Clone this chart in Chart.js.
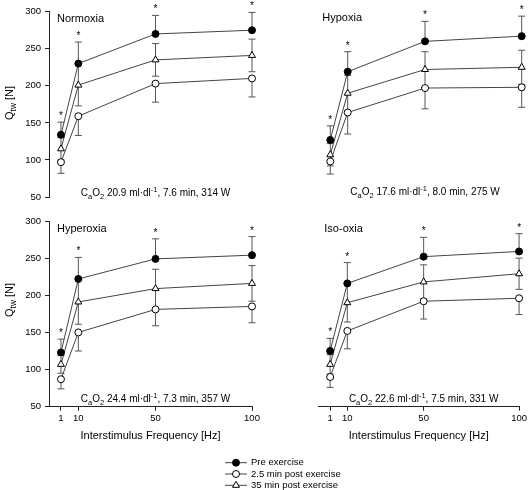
<!DOCTYPE html>
<html>
<head>
<meta charset="utf-8">
<script src="https://cdn.jsdelivr.net/npm/chart.js@4.4.1/dist/chart.umd.min.js"></script>
<style>
    body { margin: 0; background: #fff; }
    #wrap { position: relative; width: 529px; height: 490px; }
    #wrap canvas { position: absolute; left: 0; top: 0; }
</style>
</head>
<body>
<div id="wrap">
    <canvas id="normoxia" width="529" height="490"></canvas>
    <canvas id="hypoxia" width="529" height="490"></canvas>
    <canvas id="hyperoxia" width="529" height="490"></canvas>
    <canvas id="isooxia" width="529" height="490"></canvas>
</div>
<script>
// stimulation frequencies (Hz) and axis ticks
const freqs = [1, 10, 50, 100];
const xTicks = [1, 10, 50, 100];
const yTicks = [50, 100, 150, 200, 250, 300];
const seriesLabels = ["Pre exercise", "2.5 min post exercise", "35 min post exercise"];

// Qtw means and SD per condition
const normoxiaPre = [134, 230, 270, 275];
const normoxiaPreSd = [17, 29, 25, 24];
const normoxiaPost25 = [97, 159, 203, 210];
const normoxiaPost25Sd = [15, 26, 25, 25];
const normoxiaPost35 = [115, 201, 235, 241];
const normoxiaPost35Sd = [15, 28, 22, 22];

const hypoxiaPre = [127, 219, 260, 267];
const hypoxiaPreSd = [19, 27, 27, 27];
const hypoxiaPost25 = [98, 164, 197, 198];
const hypoxiaPost25Sd = [17, 29, 28, 27];
const hypoxiaPost35 = [107, 190, 222, 225];
const hypoxiaPost35Sd = [15, 24, 24, 23];

const hyperoxiaPre = [123, 222, 249, 254];
const hyperoxiaPreSd = [18, 29, 27, 25];
const hyperoxiaPost25 = [87, 150, 181, 185];
const hyperoxiaPost25Sd = [13, 25, 22, 22];
const hyperoxiaPost35 = [107, 191, 209, 216];
const hyperoxiaPost35Sd = [12, 30, 26, 24];

const isoPre = [125, 216, 252, 259];
const isoPreSd = [17, 28, 26, 24];
const isoPost25 = [90, 152, 192, 196];
const isoPost25Sd = [14, 24, 24, 22];
const isoPost35 = [107, 190, 218, 229];
const isoPost35Sd = [13, 26, 23, 21];

// panel notes: arterial O2 content, time, power
const caO2 = ["20.9", "17.6", "24.4", "22.6"];
const noteRest = ["7.6 min, 314 W", "8.0 min, 275 W", "7.3 min, 357 W", "7.5 min, 331 W"];

const FONT = "'Liberation Sans', Arial, Helvetica, sans-serif";
const Y_AXIS_W = 40;
const X_AXIS_H = 36;
const INK = "#222";

function drawRich(ctx, parts, x, y, size, align) {
    const fontFor = (k) => (k ? size * 0.75 : size) + "px " + FONT;
    let width = 0;
    parts.forEach(([t, k]) => {
        ctx.font = fontFor(k);
        width += ctx.measureText(t).width;
    });
    let cx = align === "center" ? x - width / 2 : x;
    parts.forEach(([t, k]) => {
        ctx.font = fontFor(k);
        const dy = k === "sub" ? size * 0.3 : k === "sup" ? -size * 0.4 : 0;
        ctx.fillText(t, cx, y + dy);
        cx += ctx.measureText(t).width;
    });
}

function drawMarker(ctx, style, fill, x, y, r) {
    ctx.beginPath();
    if (style === "triangle") {
        ctx.moveTo(x, y - r);
        ctx.lineTo(x + r * 0.866, y + r * 0.5);
        ctx.lineTo(x - r * 0.866, y + r * 0.5);
        ctx.closePath();
    } else {
        ctx.arc(x, y, r, 0, Math.PI * 2);
    }
    ctx.fillStyle = fill;
    ctx.fill();
    ctx.stroke();
}

const decor = {
    id: "decor",
    beforeDatasetsDraw(chart) {
        const ctx = chart.ctx;
        const xs = chart.scales.x;
        const ys = chart.scales.y;
        ctx.save();
        ctx.strokeStyle = "#555";
        ctx.lineWidth = 1;
        chart.data.datasets.forEach((ds) => {
            ds.data.forEach((pt, i) => {
                const px = xs.getPixelForValue(pt.x);
                const py = ys.getPixelForValue(pt.y);
                const ends = [];
                if (ds.sdUp) ends.push(ys.getPixelForValue(pt.y + ds.sd[i]));
                if (ds.sdDown) ends.push(ys.getPixelForValue(pt.y - ds.sd[i]));
                ends.forEach((e) => {
                    ctx.beginPath();
                    ctx.moveTo(px, py);
                    ctx.lineTo(px, e);
                    ctx.moveTo(px - 3.5, e);
                    ctx.lineTo(px + 3.5, e);
                    ctx.stroke();
                });
            });
        });
        ctx.restore();
    },
    afterDraw(chart, args, opts) {
        const ctx = chart.ctx;
        const area = chart.chartArea;
        const xs = chart.scales.x;
        const ys = chart.scales.y;
        ctx.save();
        ctx.fillStyle = "#000";
        ctx.textBaseline = "alphabetic";

        // panel title
        ctx.font = "11px " + FONT;
        ctx.textAlign = "left";
        ctx.fillText(opts.title, area.left + opts.titleDx, opts.titleY);

        // significance stars over pre exercise
        const pre = chart.data.datasets[0];
        ctx.font = "10px " + FONT;
        ctx.textAlign = "center";
        pre.data.forEach((pt, i) => {
            const cap = ys.getPixelForValue(pt.y + pre.sd[i]);
            ctx.fillText("*", xs.getPixelForValue(pt.x), cap - 3);
        });

        // condition note
        ctx.textAlign = "left";
        drawRich(ctx, [
            ["C", ""], ["a", "sub"], ["O", ""], ["2", "sub"],
            [" " + opts.cao2 + " ml\u00b7dl", ""], ["-1", "sup"],
            [", " + opts.rest, ""]
        ], xs.getPixelForValue(50), ys.getPixelForValue(opts.noteY), 10, "center");

        // y axis title
        if (opts.yTitle) {
            ctx.save();
            ctx.translate(10, opts.yTitleY);
            ctx.rotate(-Math.PI / 2);
            ctx.textBaseline = "middle";
            drawRich(ctx, [["Q", ""], ["tw", "sub"], [" [N]", ""]], 0, 0, 11, "center");
            ctx.restore();
        }

        // legend
        if (opts.legend) {
            const rows = [462.7, 474, 485.3];
            chart.data.datasets.forEach((ds, i) => {
                const y = rows[i];
                ctx.strokeStyle = ds.borderColor;
                ctx.lineWidth = 1;
                ctx.beginPath();
                ctx.moveTo(225, y);
                ctx.lineTo(247, y);
                ctx.stroke();
                ctx.strokeStyle = "#000";
                drawMarker(ctx, ds.pointStyle, ds.pointBackgroundColor, 236, y, ds.pointStyle === "triangle" ? 4 : 3.5);
                ctx.fillStyle = "#000";
                ctx.font = "9.5px " + FONT;
                ctx.textAlign = "left";
                ctx.textBaseline = "middle";
                ctx.fillText(ds.label, 251, y);
            });
        }
        ctx.restore();
    }
};

function series(label, values, sd, style, fill, up, down) {
    return {
        label: label,
        data: freqs.map((f, i) => ({ x: f, y: values[i] })),
        sd: sd,
        sdUp: up,
        sdDown: down,
        borderColor: "#444",
        borderWidth: 1,
        pointStyle: style,
        pointRadius: style === "triangle" ? 4 : 3.5,
        pointBackgroundColor: fill,
        pointBorderColor: "#000",
        pointBorderWidth: 1,
        tension: 0,
        clip: false,
    };
}

function makePanel(p) {
    const ctx = document.getElementById(p.id).getContext("2d");
    new Chart(ctx, {
        type: "line",
        data: {
            datasets: [
                series(seriesLabels[0], p.pre, p.preSd, "circle", "#000", true, false),
                series(seriesLabels[1], p.post25, p.post25Sd, "circle", "#fff", false, true),
                series(seriesLabels[2], p.post35, p.post35Sd, "triangle", "#fff", true, true),
            ],
        },
        options: {
            responsive: false,
            animation: false,
            devicePixelRatio: 1,
            layout: {
                padding: {
                    left: p.box.left - (p.showY ? Y_AXIS_W : 0),
                    top: p.box.top,
                    right: 529 - p.box.right,
                    bottom: 490 - p.box.bottom - (p.showX ? X_AXIS_H : 0),
                },
            },
            plugins: {
                legend: { display: false },
                tooltip: { enabled: false },
                decor: {
                    title: p.title,
                    titleDx: p.titleDx,
                    titleY: p.titleY,
                    cao2: p.cao2,
                    rest: p.rest,
                    noteY: p.noteY,
                    yTitle: p.showY,
                    yTitleY: p.yTitleY,
                    legend: p.legend,
                },
            },
            scales: {
                x: {
                    type: "linear",
                    min: -5.2,
                    max: 100,
                    display: p.showX,
                    afterBuildTicks: (s) => { s.ticks = xTicks.map((v) => ({ value: v })); },
                    afterFit: (s) => { if (p.showX) s.height = X_AXIS_H; },
                    grid: { drawOnChartArea: false, drawTicks: true, tickLength: 4, color: INK },
                    border: { display: true, color: INK },
                    ticks: { color: "#000", padding: 2, font: { size: 9.5, family: FONT } },
                    title: {
                        display: true,
                        text: "Interstimulus Frequency [Hz]",
                        color: "#000",
                        padding: 0,
                        font: { size: 11, family: FONT },
                    },
                },
                y: {
                    type: "linear",
                    min: 50,
                    max: 300,
                    display: p.showY,
                    afterBuildTicks: (s) => { s.ticks = yTicks.map((v) => ({ value: v })); },
                    afterFit: (s) => { if (p.showY) s.width = Y_AXIS_W; },
                    grid: { drawOnChartArea: false, drawTicks: true, tickLength: 4, color: INK },
                    border: { display: true, color: INK },
                    ticks: { color: "#000", padding: 4, font: { size: 9.5, family: FONT } },
                },
            },
        },
        plugins: [decor],
    });
}

makePanel({
    id: "normoxia", title: "Normoxia",
    pre: normoxiaPre, preSd: normoxiaPreSd,
    post25: normoxiaPost25, post25Sd: normoxiaPost25Sd,
    post35: normoxiaPost35, post35Sd: normoxiaPost35Sd,
    cao2: caO2[0], rest: noteRest[0],
    box: { left: 49, right: 252, top: 11.7, bottom: 197 },
    showX: false, showY: true, titleDx: 8, titleY: 21.5, noteY: 51, yTitleY: 103, legend: false,
});
makePanel({
    id: "hypoxia", title: "Hypoxia",
    pre: hypoxiaPre, preSd: hypoxiaPreSd,
    post25: hypoxiaPost25, post25Sd: hypoxiaPost25Sd,
    post35: hypoxiaPost35, post35Sd: hypoxiaPost35Sd,
    cao2: caO2[1], rest: noteRest[1],
    box: { left: 318.3, right: 521.7, top: 11.7, bottom: 197 },
    showX: false, showY: false, titleDx: 4, titleY: 20.5, noteY: 53, yTitleY: 103, legend: false,
});
makePanel({
    id: "hyperoxia", title: "Hyperoxia",
    pre: hyperoxiaPre, preSd: hyperoxiaPreSd,
    post25: hyperoxiaPost25, post25Sd: hyperoxiaPost25Sd,
    post35: hyperoxiaPost35, post35Sd: hyperoxiaPost35Sd,
    cao2: caO2[2], rest: noteRest[2],
    box: { left: 49, right: 252, top: 221, bottom: 406.7 },
    showX: true, showY: true, titleDx: 8, titleY: 231.5, noteY: 57, yTitleY: 300, legend: false,
});
makePanel({
    id: "isooxia", title: "Iso-oxia",
    pre: isoPre, preSd: isoPreSd,
    post25: isoPost25, post25Sd: isoPost25Sd,
    post35: isoPost35, post35Sd: isoPost35Sd,
    cao2: caO2[3], rest: noteRest[3],
    box: { left: 318.3, right: 521.7, top: 221, bottom: 406.7 },
    showX: true, showY: false, titleDx: 6, titleY: 231.5, noteY: 57, yTitleY: 300, legend: true,
});
</script>
</body>
</html>
